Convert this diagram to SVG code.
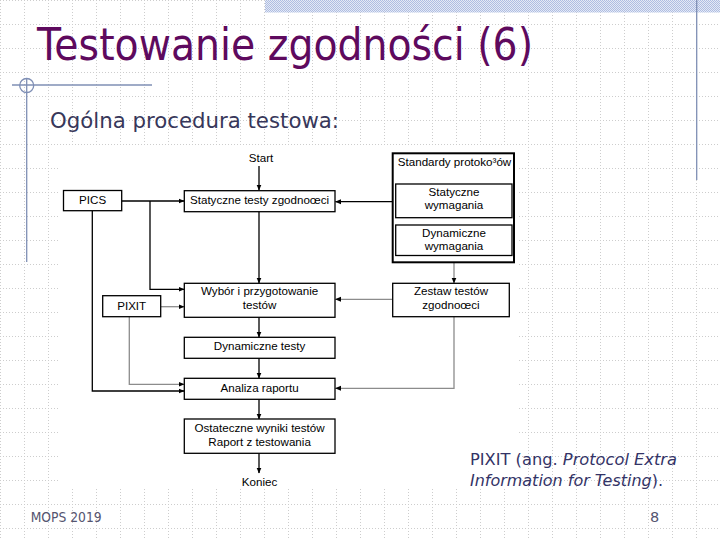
<svg xmlns="http://www.w3.org/2000/svg" width="720" height="540" viewBox="0 0 720 540">
<defs>
<pattern id="grid" width="24" height="24" patternUnits="userSpaceOnUse">
<path d="M0,0.5 H24 M0.5,0 V24" fill="none" stroke="#cdcdcd" stroke-width="1" stroke-dasharray="1 2"/>
</pattern>
<pattern id="hatch" width="2" height="2" patternUnits="userSpaceOnUse">
<rect width="2" height="2" fill="#e4e9f5"/>
<rect width="1" height="1" fill="#aebde2"/>
<rect x="1" y="1" width="1" height="1" fill="#aebde2"/>
</pattern>
<marker id="ah" markerUnits="userSpaceOnUse" markerWidth="6" markerHeight="6" refX="5.5" refY="3" orient="auto">
<path d="M0,0.5 L6,3 L0,5.5 z" fill="#000"/>
</marker>
<style>
.deco{stroke:#7f8fb5;stroke-width:1.3;fill:none}
.box{fill:#fff;stroke:#000;stroke-width:1.3}
.outer{fill:#fff;stroke:#000;stroke-width:2}
.lbl{font-family:"Liberation Sans",Arial,sans-serif;font-size:11.6px;fill:#000;text-anchor:middle}
.cb{fill:none;stroke:#000;stroke-width:1.3;marker-end:url(#ah)}
.cg{fill:none;stroke:#8c8c8c;stroke-width:1.3;marker-end:url(#ah)}
.slide{font-family:"DejaVu Sans","Liberation Sans",sans-serif}
</style>
</defs>

<rect width="720" height="540" fill="#fff"/>
<rect width="720" height="540" fill="url(#grid)"/>
<rect x="265" y="0" width="455" height="12.5" fill="url(#hatch)"/>

<g id="decoration">
<line class="deco" x1="696.7" y1="0" x2="696.7" y2="180"/>
<line class="deco" x1="12" y1="85" x2="152" y2="85"/>
<line class="deco" x1="26.7" y1="78" x2="26.7" y2="262"/>
<circle class="deco" cx="26.7" cy="85.5" r="7" stroke-width="1"/>
</g>

<text class="slide" x="37" y="59.5" font-size="45" fill="#5e0a5e" textLength="496" lengthAdjust="spacingAndGlyphs">Testowanie zgodności (6)</text>
<text class="slide" x="50" y="128.3" font-size="22" fill="#37375a" textLength="289" lengthAdjust="spacingAndGlyphs">Ogólna procedura testowa:</text>

<rect x="59" y="147" width="458" height="341" fill="#fff"/>

<g id="connectors">
<path class="cb" d="M259,166 V190"/>
<path class="cb" d="M122,201 H184"/>
<path class="cb" d="M150,201 V289.3 H184"/>
<path class="cb" d="M92.3,210.7 V391 H184"/>
<path class="cg" d="M161,306.7 H184"/>
<path class="cg" d="M129.3,317 V384.3 H184"/>
<path class="cb" d="M259,211.7 V283"/>
<path class="cb" d="M259,317.3 V337"/>
<path class="cb" d="M259,358.3 V378"/>
<path class="cb" d="M259,399.3 V419"/>
<path class="cb" d="M259,453.3 V473"/>
<path class="cb" d="M395.7,201.7 H335.5"/>
<path class="cg" d="M454,262.3 V283"/>
<path class="cg" d="M392.7,299.3 H335.5"/>
<path class="cg" d="M454,316.7 V388.3 H335.5"/>
</g>

<g id="start"><text class="lbl" x="261" y="162.3">Start</text></g>

<g id="pics">
<rect class="box" x="63.5" y="190.5" width="58.2" height="20.2"/>
<text class="lbl" x="92.6" y="204">PICS</text>
</g>

<g id="statyczne-testy">
<rect class="box" x="184.3" y="190.7" width="150.7" height="21"/>
<text class="lbl" x="259.6" y="204">Statyczne testy zgodnoœci</text>
</g>

<g id="standardy">
<rect class="outer" x="392.7" y="153.3" width="121.3" height="109"/>
<text class="lbl" x="454.5" y="165.7">Standardy protoko³ów</text>
</g>

<g id="statyczne-wymagania">
<rect class="box" x="395.7" y="184" width="116.3" height="33.7"/>
<text class="lbl" x="454" y="195.7">Statyczne</text>
<text class="lbl" x="454" y="209.3">wymagania</text>
</g>

<g id="dynamiczne-wymagania">
<rect class="box" x="395.7" y="225" width="116.3" height="30.5"/>
<text class="lbl" x="454" y="237.3">Dynamiczne</text>
<text class="lbl" x="454" y="249.5">wymagania</text>
</g>

<g id="wybor">
<rect class="box" x="184.3" y="283.3" width="150.7" height="34"/>
<text class="lbl" x="259.6" y="295">Wybór i przygotowanie</text>
<text class="lbl" x="259.6" y="309">testów</text>
</g>

<g id="pixit">
<rect class="box" x="102.7" y="295.7" width="58" height="21"/>
<text class="lbl" x="131.7" y="310">PIXIT</text>
</g>

<g id="zestaw">
<rect class="box" x="392.7" y="283.3" width="116.6" height="33.4"/>
<text class="lbl" x="451" y="294.5">Zestaw testów</text>
<text class="lbl" x="451" y="308.5">zgodnoœci</text>
</g>

<g id="dynamiczne-testy">
<rect class="box" x="184.3" y="337.3" width="150.7" height="21"/>
<text class="lbl" x="259.6" y="350">Dynamiczne testy</text>
</g>

<g id="analiza">
<rect class="box" x="184.3" y="378.3" width="150.7" height="21"/>
<text class="lbl" x="259.6" y="391.7">Analiza raportu</text>
</g>

<g id="ostateczne">
<rect class="box" x="184.3" y="419" width="150.7" height="34.3"/>
<text class="lbl" x="259.6" y="431.7">Ostateczne wyniki testów</text>
<text class="lbl" x="259.6" y="445.7">Raport z testowania</text>
</g>

<g id="koniec"><text class="lbl" x="259.5" y="485.7">Koniec</text></g>

<text class="slide" x="470" y="465" font-size="16" fill="#333366" textLength="207" lengthAdjust="spacingAndGlyphs">PIXIT (ang. <tspan font-style="italic">Protocol Extra</tspan></text>
<text class="slide" x="470" y="486" font-size="16" fill="#333366" textLength="193" lengthAdjust="spacingAndGlyphs"><tspan font-style="italic">Information for Testing</tspan>).</text>

<text class="slide" x="30.7" y="522.3" font-size="14.5" fill="#555570" textLength="71" lengthAdjust="spacingAndGlyphs">MOPS 2019</text>
<text class="slide" x="650" y="522.3" font-size="14.5" fill="#555570">8</text>
</svg>
